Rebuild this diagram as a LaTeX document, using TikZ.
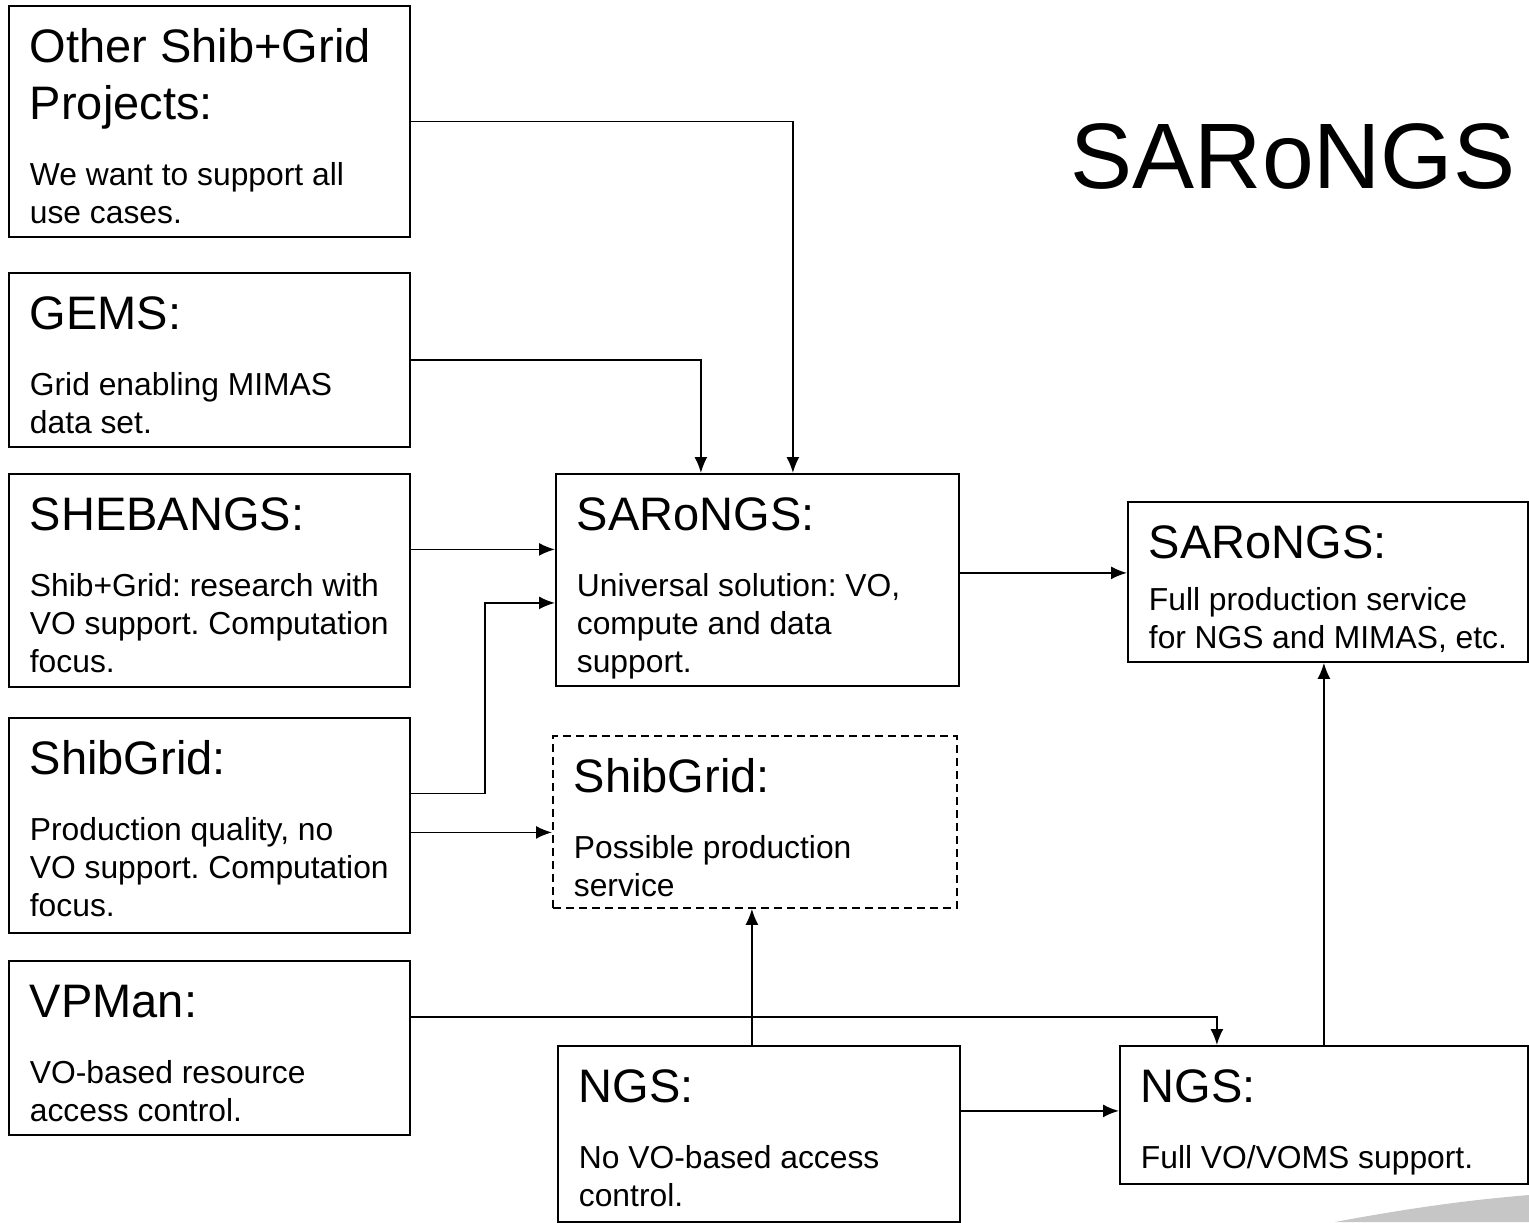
\documentclass[tikz,border=0pt]{standalone}
\usepackage{fontspec}
\setmainfont{Liberation Sans}
\usetikzlibrary{arrows.meta}
\frenchspacing

\newcommand{\titlefont}{\fontsize{23.5pt}{28.5pt}\selectfont}
\newcommand{\bodyfont}{\fontsize{15.9pt}{19pt}\selectfont}
% box text: [gap]{height}{width}{title}{body}
\newcommand{\prj}[5][14pt]{\parbox[c][#2][t]{#3}{\raggedright\titlefont\rule{0pt}{28.5pt}#4\par\vspace{#1}\bodyfont #5\par}}

\begin{document}
\begin{tikzpicture}[
            x=0.5pt, y=-0.5pt,
            line width=0.9pt,
            >={Latex[length=8pt,width=6.5pt]},
            box/.style={rectangle,draw,anchor=north west,inner xsep=10.5pt,inner ysep=0pt},
            maybe/.style={box,dash pattern=on 4pt off 2.5pt}
        ]
        \useasboundingbox (0,0) rectangle (1529,1222);

        % projects on the left
        \node[box] (other) at (8,5) {\prj{115.5pt}{179.5pt}{Other Shib+Grid\\Projects:}{We want to support all\\use cases.}};
        \node[box] (gems) at (8,272) {\prj{87pt}{179.5pt}{GEMS:}{Grid enabling MIMAS\\data set.}};
        \node[box] (shebangs) at (8,473) {\prj{106.5pt}{179.5pt}{SHEBANGS:}{Shib+Grid: research with\\VO support. Computation\\focus.}};
        \node[box] (shibgrid) at (8,717) {\prj{107.5pt}{179.5pt}{ShibGrid:}{Production quality, no\\VO support. Computation\\focus.}};
        \node[box] (vpman) at (8,960) {\prj{87pt}{179.5pt}{VPMan:}{VO-based resource\\access control.}};

        % middle column
        \node[box] (saronmid) at (555,473) {\prj{106pt}{180.5pt}{SARoNGS:}{Universal solution: VO,\\compute and data\\support.}};
        \node[maybe] (shibprod) at (552,735) {\prj{86pt}{181pt}{ShibGrid:}{Possible production\\service}};
        \node[box] (ngsold) at (557,1045) {\prj{88pt}{180pt}{NGS:}{No VO-based access\\control.}};

        % right column
        \node[box] (saronfull) at (1127,501) {\prj[7pt]{80pt}{179pt}{SARoNGS:}{Full production service\\for NGS and MIMAS, etc.}};
        \node[box] (ngsfull) at (1119,1045) {\prj{69pt}{183pt}{NGS:}{Full VO/VOMS support.}};

        \node[anchor=base west,inner sep=0pt,font=\fontsize{46.5pt}{50pt}\selectfont] (head) at (1070,188) {SARoNGS};

        % connectors
        \draw[->] (other.east) -| ([xshift=17.75pt]saronmid.north);
        \draw[->] (gems.east) -| ([xshift=-28.25pt]saronmid.north);
        \draw[->] ([yshift=15.5pt]shebangs.east) coordinate (s1) -- (s1 -| saronmid.west);
        \draw[->] ([yshift=16pt]shibgrid.east) -- ++(37pt,0) |- ([yshift=-11.5pt]saronmid.west);
        \draw[->] ([yshift=-3.5pt]shibgrid.east) coordinate (s2) -- (s2 -| shibprod.west);
        \draw[->] ([yshift=15.5pt]vpman.east) -| ([xshift=-53.5pt]ngsfull.north);
        \draw[->] ([xshift=-3.5pt]ngsold.north) coordinate (n1) -- (n1 |- shibprod.south);
        \draw[->] ([yshift=11.5pt]ngsold.east) coordinate (n2) -- (n2 -| ngsfull.west);
        \draw[->] (ngsfull.north) -- (ngsfull.north |- saronfull.south);
        \draw[->] ([yshift=3.5pt]saronmid.east) coordinate (m1) -- (m1 -| saronfull.west);

        % slide swoosh
        \fill[gray!45] (1335,1222) .. controls (1420,1206) and (1480,1199) .. (1529,1195) -- (1529,1222) -- cycle;
    \end{tikzpicture}
\end{document}
